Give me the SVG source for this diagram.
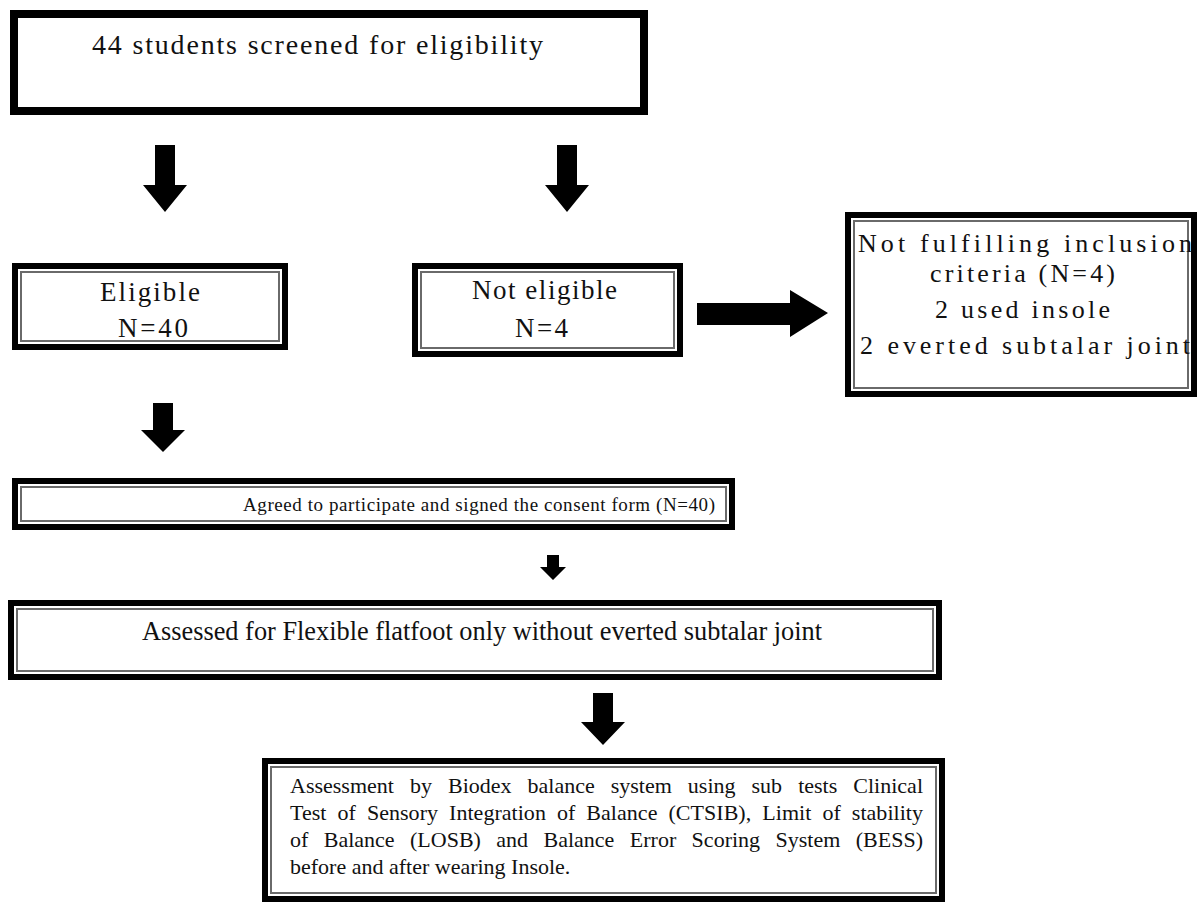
<svg xmlns="http://www.w3.org/2000/svg" width="1199" height="908" viewBox="0 0 1199 908">
<defs>
<style>
.thick{fill:#fff;stroke:#000;stroke-width:6}
.thin{fill:none;stroke:#6a6a6a;stroke-width:2}
.solo{fill:#fff;stroke:#000;stroke-width:8}
.tl{font-family:"Liberation Serif","Times New Roman",serif;fill:#111}
.arr{fill:#000}
</style>
</defs>
<rect width="1199" height="908" fill="#fff"/>
<g id="connectors">
<polygon class="arr" points="155,145 175,145 175,185 187,185 165,212 143,185 155,185"/>
<polygon class="arr" points="557,145 577,145 577,185 589,185 567,212 545,185 557,185"/>
<polygon class="arr" points="697,303 790,303 790,290 828,313 790,337 790,325 697,325"/>
<polygon class="arr" points="153,403 173,403 173,430 185,430 163,452 141,430 153,430"/>
<polygon class="arr" points="547,555 559,555 559,567 566,567 553,580 540,567 547,567"/>
<polygon class="arr" points="593,693 613,693 613,722 625,722 603,745 581,722 593,722"/>
</g>
<g id="screened">
<rect class="solo" x="14" y="14" width="630" height="97"/>
<text class="tl" x="92" y="54" font-size="28" textLength="451" lengthAdjust="spacing">44 students screened for eligibility</text>
</g>
<g id="eligible">
<rect class="thick" x="15" y="266" width="270" height="81"/>
<rect class="thin" x="21" y="272" width="258" height="69"/>
<text class="tl" x="100" y="301" font-size="27" textLength="100" lengthAdjust="spacing">Eligible</text>
<text class="tl" x="118" y="337" font-size="27" textLength="70" lengthAdjust="spacing">N=40</text>
</g>
<g id="not-eligible">
<rect class="thick" x="415" y="266" width="265" height="88"/>
<rect class="thin" x="421" y="272" width="253" height="76"/>
<text class="tl" x="472" y="299" font-size="27" textLength="145" lengthAdjust="spacing">Not eligible</text>
<text class="tl" x="515" y="337" font-size="27" textLength="53" lengthAdjust="spacing">N=4</text>
</g>
<g id="not-fulfilling">
<rect class="thick" x="848" y="215" width="346" height="179"/>
<rect class="thin" x="854" y="221" width="334" height="167"/>
<text class="tl" x="858" y="252" font-size="26" textLength="334" lengthAdjust="spacing">Not fulfilling inclusion</text>
<text class="tl" x="930" y="282" font-size="26" textLength="185" lengthAdjust="spacing">criteria (N=4)</text>
<text class="tl" x="935" y="318" font-size="26" textLength="175" lengthAdjust="spacing">2 used insole</text>
<text class="tl" x="860" y="354" font-size="26" textLength="330" lengthAdjust="spacing">2 everted subtalar joint</text>
</g>
<g id="agreed">
<rect class="thick" x="15" y="481" width="717" height="46"/>
<rect class="thin" x="21" y="487" width="705" height="34"/>
<text class="tl" x="243" y="511" font-size="19" textLength="472" lengthAdjust="spacing">Agreed to participate and signed the consent form (N=40)</text>
</g>
<g id="assessed">
<rect class="thick" x="11" y="603" width="928" height="74"/>
<rect class="thin" x="17" y="609" width="916" height="62"/>
<text class="tl" x="142" y="640" font-size="28" textLength="680" lengthAdjust="spacingAndGlyphs">Assessed for Flexible flatfoot only without everted subtalar joint</text>
</g>
<g id="assessment">
<rect class="thick" x="265" y="761" width="677" height="138"/>
<rect class="thin" x="271" y="767" width="665" height="126"/>
<text class="tl" x="290" y="793" font-size="22" word-spacing="10.5" textLength="633" lengthAdjust="spacing">Assessment by Biodex balance system using sub tests Clinical</text>
<text class="tl" x="290" y="820" font-size="22" word-spacing="5.5" textLength="633" lengthAdjust="spacing">Test of Sensory Integration of Balance (CTSIB), Limit of stability</text>
<text class="tl" x="290" y="847" font-size="22" word-spacing="9.9" textLength="633" lengthAdjust="spacing">of Balance (LOSB) and Balance Error Scoring System (BESS)</text>
<text class="tl" x="290" y="874" font-size="22">before and after wearing Insole.</text>
</g>
</svg>
